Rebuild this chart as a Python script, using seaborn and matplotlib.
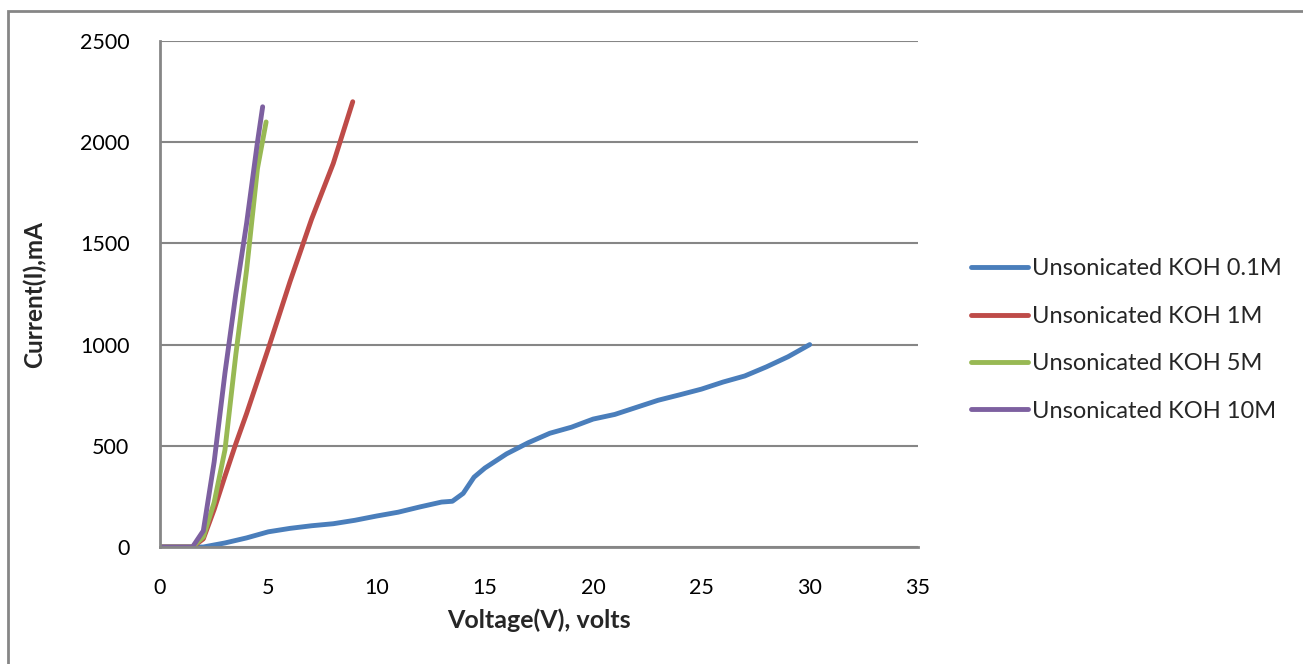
import matplotlib
matplotlib.use("Agg")
import matplotlib.pyplot as plt
from matplotlib.patches import Rectangle
import pandas as pd
import seaborn as sns

# Current-voltage readings for unsonicated KOH electrolytes
series_names = ["Unsonicated KOH 0.1M", "Unsonicated KOH 1M",
                "Unsonicated KOH 5M", "Unsonicated KOH 10M"]

v_01 = [0, 1, 2, 3, 4, 5, 6, 7, 8, 9, 10, 11, 12, 13, 13.5, 14, 14.5, 15,
        16, 17, 18, 19, 20, 21, 22, 23, 24, 25, 26, 27, 28, 29, 30]
i_01 = [0, 0, 0, 20, 45, 75, 92, 105, 115, 132, 153, 172, 198, 222, 226, 265,
        345, 390, 460, 515, 562, 592, 632, 655, 690, 725, 752, 780, 815, 845,
        890, 940, 1000]

v_1 = [0, 1, 1.5, 2, 2.5, 3, 3.5, 4, 4.5, 5, 6, 7, 8, 8.9]
i_1 = [0, 0, 0, 40, 185, 350, 510, 660, 820, 980, 1310, 1620, 1895, 2200]

v_5 = [0, 1, 1.5, 2, 2.5, 3, 3.5, 4, 4.5, 4.9]
i_5 = [0, 0, 0, 50, 220, 480, 950, 1370, 1870, 2100]

v_10 = [0, 1, 1.5, 2, 2.5, 3, 3.5, 4, 4.5, 4.74]
i_10 = [0, 0, 0, 80, 420, 860, 1250, 1600, 2000, 2175]

x_ticks = [0, 5, 10, 15, 20, 25, 30, 35]
y_ticks = [0, 500, 1000, 1500, 2000, 2500]

colors = ["#4A7EBB", "#BE4B48", "#98B954", "#7D60A0"]

frames = []
for name, v, i in zip(series_names, [v_01, v_1, v_5, v_10], [i_01, i_1, i_5, i_10]):
    frames.append(pd.DataFrame({"Voltage": v, "Current": i, "Series": name}))
df = pd.concat(frames, ignore_index=True)

sns.set_theme(style="white")
plt.rcParams["font.family"] = ["Lato", "DejaVu Sans"]

fig = plt.figure(figsize=(13.03, 6.64), dpi=100)
ax = fig.add_axes([160 / 1303, 1 - 547 / 664, (918 - 160) / 1303, (547 - 41) / 664])

sns.lineplot(data=df, x="Voltage", y="Current", hue="Series",
             hue_order=series_names, palette=colors, linewidth=3.5,
             sort=False, estimator=None, ax=ax, legend=True,
             solid_capstyle="round", solid_joinstyle="round")

ax.set_xlim(0, 35)
ax.set_ylim(0, 2500)
ax.set_xticks(x_ticks)
ax.set_yticks(y_ticks)
ax.tick_params(axis="both", length=0, labelsize=15.5, colors="black")
ax.tick_params(axis="x", pad=22)
ax.tick_params(axis="y", pad=22)

grid_color = "#868686"
ax.yaxis.grid(True, color=grid_color, linewidth=1.5)
ax.xaxis.grid(False)
ax.set_axisbelow(True)
for side in ["top", "right"]:
    ax.spines[side].set_visible(False)
for side in ["left", "bottom"]:
    ax.spines[side].set_color(grid_color)
    ax.spines[side].set_linewidth(2)

ax.set_xlabel("Voltage(V), volts", fontsize=18, fontweight="bold", labelpad=8)
ax.set_ylabel("Current(I),mA", fontsize=17.5, fontweight="bold", labelpad=24)

leg = ax.legend(loc="center left", bbox_to_anchor=(1.057, 0.409), frameon=False,
                fontsize=17, handlelength=2.45, handletextpad=0.15,
                labelspacing=1.12, borderaxespad=0)
for line in leg.get_lines():
    line.set_linewidth(3.5)
    line.set_solid_capstyle("round")

# outer chart border
fig.patches.append(Rectangle((8 / 1303, -0.1), 1.2, 1 - 11 / 664 + 0.1,
                             transform=fig.transFigure, fill=False,
                             edgecolor=grid_color, linewidth=2))

fig.savefig("out.png", dpi=100, facecolor="white")
